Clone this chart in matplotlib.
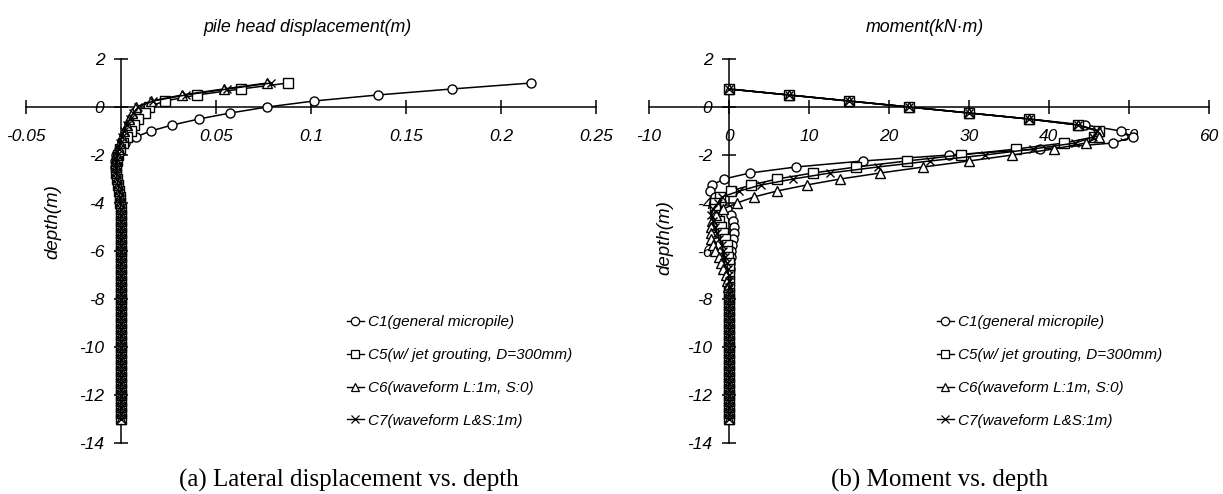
import matplotlib
matplotlib.use("Agg")
import matplotlib.pyplot as plt
from matplotlib.lines import Line2D

plt.rcParams['font.family'] = ['Liberation Sans', 'DejaVu Sans']

# ---------------- data ----------------
depth_disp = [1.0, 0.75, 0.5, 0.25, 0.0, -0.25, -0.5, -0.75, -1.0, -1.25, -1.5, -1.75,
              -2.0, -2.25, -2.5, -2.75, -3.0, -3.25, -3.5, -3.75, -4.0, -4.25, -4.5, -4.75,
              -5.0, -5.25, -5.5, -5.75, -6.0, -6.25, -6.5, -6.75, -7.0, -7.25, -7.5, -7.75,
              -8.0, -8.25, -8.5, -8.75, -9.0, -9.25, -9.5, -9.75, -10.0, -10.25, -10.5, -10.75,
              -11.0, -11.25, -11.5, -11.75, -12.0, -12.25, -12.5, -12.75, -13.0]

disp_c1 = [0.216, 0.174, 0.135, 0.1015, 0.077, 0.0575, 0.041, 0.027, 0.0157, 0.0077, 0.002, -0.001,
           -0.0025, -0.003, -0.003, -0.0028, -0.0022, -0.0016, -0.001, -0.0006, -0.0003, -0.0001, 0.0, 0.0,
           0.0, 0.0, 0.0, 0.0, 0.0, 0.0, 0.0, 0.0, 0.0, 0.0, 0.0, 0.0,
           0.0, 0.0, 0.0, 0.0, 0.0, 0.0, 0.0, 0.0, 0.0, 0.0, 0.0, 0.0,
           0.0, 0.0, 0.0, 0.0, 0.0, 0.0, 0.0, 0.0, 0.0]
disp_c5 = [0.088, 0.063, 0.040, 0.023, 0.0145, 0.0125, 0.0088, 0.007, 0.005, 0.003, 0.0012, -0.0005,
           -0.0015, -0.0022, -0.0025, -0.0024, -0.002, -0.0015, -0.001, -0.0006, -0.0003, -0.0001, 0.0, 0.0,
           0.0, 0.0, 0.0, 0.0, 0.0, 0.0, 0.0, 0.0, 0.0, 0.0, 0.0, 0.0,
           0.0, 0.0, 0.0, 0.0, 0.0, 0.0, 0.0, 0.0, 0.0, 0.0, 0.0, 0.0,
           0.0, 0.0, 0.0, 0.0, 0.0, 0.0, 0.0, 0.0, 0.0]
disp_c6 = [0.077, 0.054, 0.032, 0.016, 0.008, 0.006, 0.004, 0.003, 0.0015, 0.0005, -0.0005, -0.0012,
           -0.002, -0.0025, -0.0027, -0.0025, -0.002, -0.0015, -0.001, -0.0006, -0.0003, -0.0001, 0.0, 0.0,
           0.0, 0.0, 0.0, 0.0, 0.0, 0.0, 0.0, 0.0, 0.0, 0.0, 0.0, 0.0,
           0.0, 0.0, 0.0, 0.0, 0.0, 0.0, 0.0, 0.0, 0.0, 0.0, 0.0, 0.0,
           0.0, 0.0, 0.0, 0.0, 0.0, 0.0, 0.0, 0.0, 0.0]
disp_c7 = [0.079, 0.056, 0.034, 0.017, 0.009, 0.0065, 0.0045, 0.003, 0.0016, 0.0006, -0.0004, -0.0011,
           -0.0019, -0.0024, -0.0026, -0.0024, -0.002, -0.0015, -0.001, -0.0006, -0.0003, -0.0001, 0.0, 0.0,
           0.0, 0.0, 0.0, 0.0, 0.0, 0.0, 0.0, 0.0, 0.0, 0.0, 0.0, 0.0,
           0.0, 0.0, 0.0, 0.0, 0.0, 0.0, 0.0, 0.0, 0.0, 0.0, 0.0, 0.0,
           0.0, 0.0, 0.0, 0.0, 0.0, 0.0, 0.0, 0.0, 0.0]

depth_mom = [0.75, 0.5, 0.25, 0.0, -0.25, -0.5, -0.75, -1.0, -1.25, -1.5, -1.75,
             -2.0, -2.25, -2.5, -2.75, -3.0, -3.25, -3.5, -3.75, -4.0, -4.25, -4.5, -4.75,
             -5.0, -5.25, -5.5, -5.75, -6.0, -6.25, -6.5, -6.75, -7.0, -7.25, -7.5, -7.75,
             -8.0, -8.25, -8.5, -8.75, -9.0, -9.25, -9.5, -9.75, -10.0, -10.25, -10.5, -10.75,
             -11.0, -11.25, -11.5, -11.75, -12.0, -12.25, -12.5, -12.75, -13.0]

mom_c1 = [0.0, 7.5, 15.0, 22.5, 30.0, 37.5, 44.5, 49.0, 50.5, 48.0, 38.9,
          27.5, 16.7, 8.35, 2.6, -0.64, -2.1, -2.4, -1.8, -1.0, -0.3, 0.2, 0.5,
          0.6, 0.6, 0.5, 0.4, 0.3, 0.2, 0.15, 0.1, 0.05, 0.0, 0.0, 0.0,
          0.0, 0.0, 0.0, 0.0, 0.0, 0.0, 0.0, 0.0, 0.0, 0.0, 0.0, 0.0,
          0.0, 0.0, 0.0, 0.0, 0.0, 0.0, 0.0, 0.0, 0.0]
mom_c5 = [0.0, 7.5, 15.0, 22.5, 30.0, 37.5, 43.6, 46.3, 45.6, 41.9, 35.9,
          29.0, 22.2, 15.9, 10.5, 6.0, 2.8, 0.2, -1.1, -1.8, -1.8, -1.6, -1.3,
          -1.0, -0.7, -0.5, -0.3, -0.2, -0.1, -0.05, 0.0, 0.0, 0.0, 0.0, 0.0,
          0.0, 0.0, 0.0, 0.0, 0.0, 0.0, 0.0, 0.0, 0.0, 0.0, 0.0, 0.0,
          0.0, 0.0, 0.0, 0.0, 0.0, 0.0, 0.0, 0.0, 0.0]
mom_c6 = [0.0, 7.5, 15.0, 22.5, 30.0, 37.5, 43.6, 46.3, 46.3, 44.6, 40.6,
          35.4, 30.0, 24.3, 18.9, 13.9, 9.7, 6.0, 3.1, 1.0, -0.75, -1.6, -2.1,
          -2.3, -2.3, -2.2, -2.0, -1.7, -1.3, -1.0, -0.7, -0.4, -0.2, -0.1, 0.0,
          0.0, 0.0, 0.0, 0.0, 0.0, 0.0, 0.0, 0.0, 0.0, 0.0, 0.0, 0.0,
          0.0, 0.0, 0.0, 0.0, 0.0, 0.0, 0.0, 0.0, 0.0]
mom_c7 = [0.0, 7.5, 15.0, 22.5, 30.0, 37.5, 43.6, 46.0, 45.5, 43.3, 38.0,
          32.0, 25.1, 18.6, 12.6, 8.0, 4.0, 1.3, -0.9, -1.4, -2.0, -2.2, -2.0,
          -1.8, -1.5, -1.2, -0.9, -0.7, -0.5, -0.3, -0.15, -0.05, 0.0, 0.0, 0.0,
          0.0, 0.0, 0.0, 0.0, 0.0, 0.0, 0.0, 0.0, 0.0, 0.0, 0.0, 0.0,
          0.0, 0.0, 0.0, 0.0, 0.0, 0.0, 0.0, 0.0, 0.0]

labels = ["C1(general micropile)", "C5(w/ jet grouting, D=300mm)",
          "C6(waveform L:1m, S:0)", "C7(waveform L&S:1m)"]
markers = ["o", "s", "^", "x"]

disp_xticks = [-0.05, 0.05, 0.1, 0.15, 0.2, 0.25]
disp_xticklabels = ["-0.05", "0.05", "0.1", "0.15", "0.2", "0.25"]
mom_xticks = [-10, 0, 10, 20, 30, 40, 50, 60]
yticks = [2, 0, -2, -4, -6, -8, -10, -12, -14]

# ---------------- figure ----------------
W, H = 1223, 494
fig = plt.figure(figsize=(W / 100, H / 100), dpi=100)

def fx(px):
    return px / W

def fy(py):
    return 1 - py / H

ax1 = fig.add_axes([fx(26), fy(443), fx(596) - fx(26), fy(59) - fy(443)])
ax2 = fig.add_axes([fx(649), fy(443), fx(1209) - fx(649), fy(59) - fy(443)])

tick_font = dict(fontsize=12.5, style='italic')

def style_axis(ax, xlim, xticks, xticklabels):
    ax.set_xlim(*xlim)
    ax.set_ylim(-14, 2)
    for s in ['top', 'right']:
        ax.spines[s].set_visible(False)
    ax.spines['left'].set_position(('data', 0))
    ax.spines['bottom'].set_position(('data', 0))
    for s in ['left', 'bottom']:
        ax.spines[s].set_linewidth(1.1)
    ax.set_xticks(xticks)
    ax.set_xticklabels(xticklabels, **tick_font)
    ax.set_yticks(yticks)
    ax.set_yticklabels([str(t) for t in yticks], **tick_font)
    ax.tick_params(axis='x', direction='inout', length=10, width=1.1, pad=11)
    ax.tick_params(axis='y', direction='inout', length=10, width=1.1, pad=7)
    ax.patch.set_visible(False)

series_disp = [disp_c1, disp_c5, disp_c6, disp_c7]
series_mom = [mom_c1, mom_c5, mom_c6, mom_c7]

for vals, m in zip(series_disp, markers):
    ax1.plot(vals, depth_disp, color='black', lw=1.1, marker=m, ms=6.5 if m != 'x' else 6,
             mfc='white', mec='black', mew=1.0, clip_on=False, zorder=3)
for vals, m in zip(series_mom, markers):
    ax2.plot(vals, depth_mom, color='black', lw=1.1, marker=m, ms=6.5 if m != 'x' else 6,
             mfc='white', mec='black', mew=1.0, clip_on=False, zorder=3)

style_axis(ax1, (-0.05, 0.25), disp_xticks, disp_xticklabels)
style_axis(ax2, (-10, 60), mom_xticks, [str(t) for t in mom_xticks])

# titles
fig.text(fx(307), fy(27), "pile head displacement(m)", ha='center', va='center',
         fontsize=12.8, style='italic')
fig.text(fx(925), fy(27), "moment(kN\u00b7m)", ha='center', va='center',
         fontsize=12.8, style='italic')
fig.text(fx(53), fy(222), "depth(m)", rotation=90, ha='center', va='center',
         fontsize=13.5, style='italic')
fig.text(fx(665), fy(238), "depth(m)", rotation=90, ha='center', va='center',
         fontsize=13.5, style='italic')

# legends
handles = [Line2D([], [], color='black', lw=1.0, marker=m, ms=6, mfc='white', mec='black', mew=0.9)
           for m in markers]
for x0 in [347, 937]:
    fig.legend(handles, labels, loc='upper left', bbox_to_anchor=(fx(x0), fy(315)),
               frameon=False, handlelength=1.1, handletextpad=0.25, labelspacing=1.24,
               borderaxespad=0, borderpad=0,
               prop=dict(family='Liberation Sans', style='italic', size=11))

# captions
fig.text(fx(349), fy(480), "(a) Lateral displacement vs. depth", ha='center', va='center',
         fontsize=18, family='Liberation Serif')
fig.text(fx(940), fy(480), "(b) Moment vs. depth", ha='center', va='center',
         fontsize=18, family='Liberation Serif')

fig.savefig("out.png", dpi=100)
